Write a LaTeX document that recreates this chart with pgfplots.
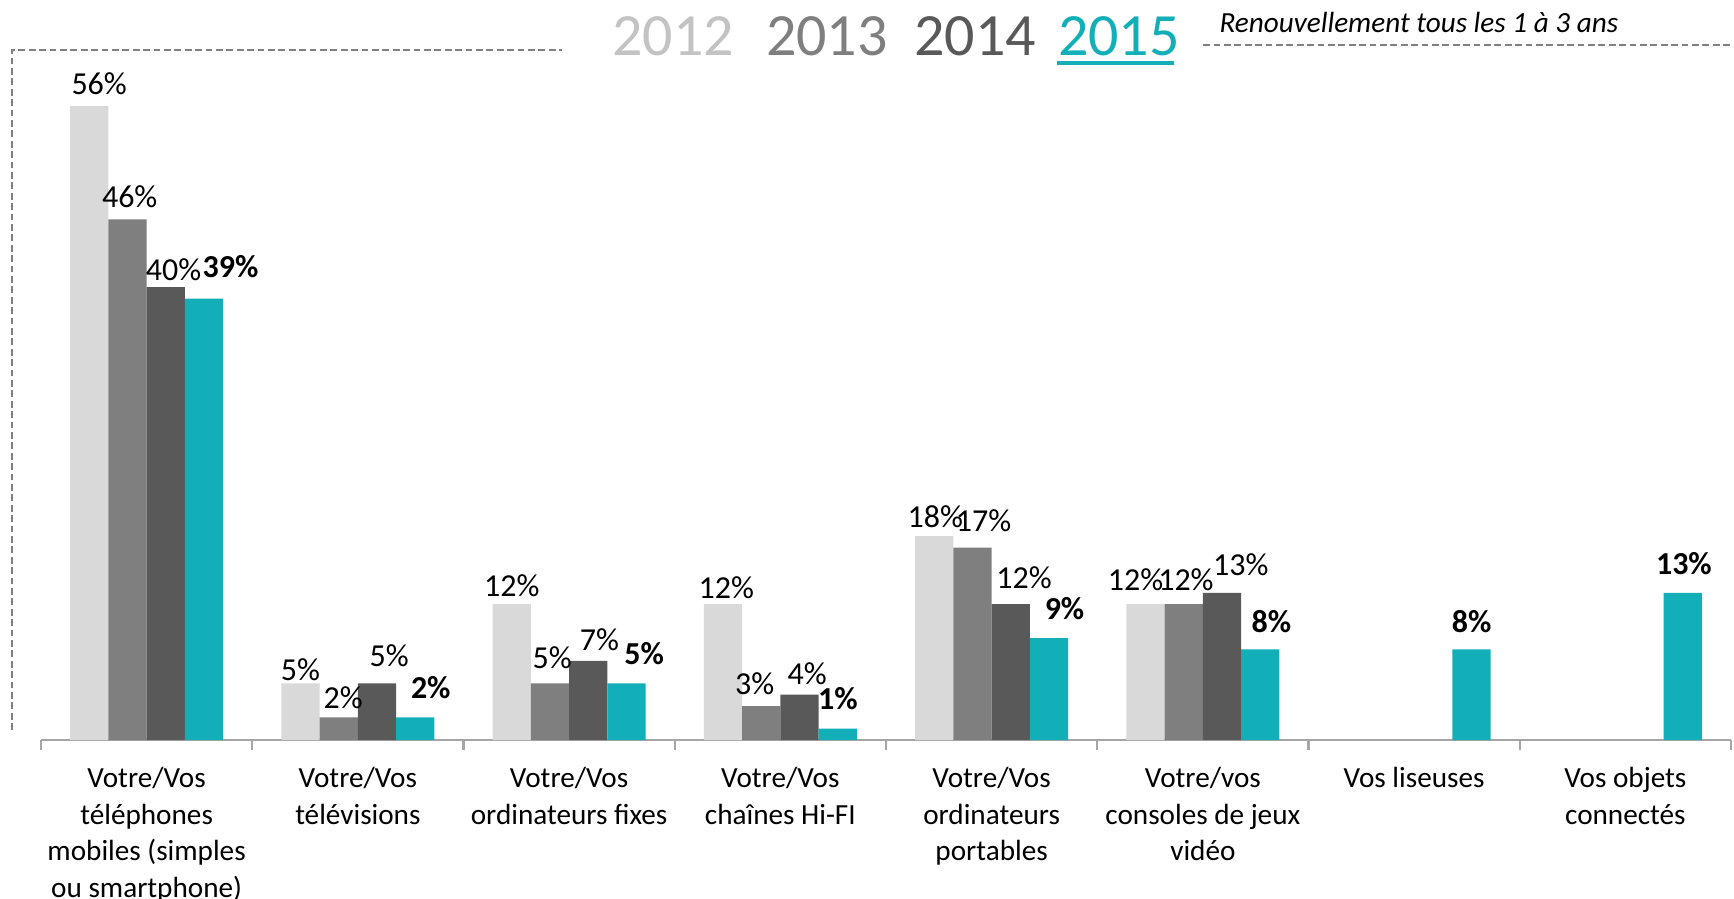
\documentclass[border=0pt]{standalone}
\usepackage{fontspec}
\setmainfont{Carlito}
\usepackage{pgfplots}
\usepackage{pgfplotstable}
\pgfplotsset{compat=1.18}

\definecolor{c2012}{HTML}{D9D9D9}
\definecolor{c2013}{HTML}{7F7F7F}
\definecolor{c2014}{HTML}{595959}
\definecolor{c2015}{HTML}{13AFB8}
\definecolor{axisgray}{HTML}{A6A6A6}
\definecolor{framegray}{HTML}{808080}

% x, value, label offsets (dx, dy) in reference pixels
\pgfplotstableread{
x y dx dy
0 56 9 20
1 5 0 12
2 12 0 17
3 12 3 15
4 18 1 18
5 12 -9 22
}\tdouze
\pgfplotstableread{
x y dx dy
0 46 2 20
1 2 4 17.5
2 5 2 23
3 3 -6 20
4 17 10 24
5 12 2 22
}\ttreize
\pgfplotstableread{
x y dx dy
0 40 7 16
1 5 11 25
2 7 10 19
3 4 7 19
4 12 12 24
5 13 17 25
}\tquatorze
\pgfplotstableread{
x y dx dy
0 39 24 29
1 2 14 26.5
2 5 16 27
3 1 0 27
4 9 14 27
5 8 10 25
6 8 0 25
7 13 1 26
}\tquinze

\begin{document}
\begin{tikzpicture}
\useasboundingbox (0,0) rectangle (433.5pt,224.75pt);

\begin{axis}[
  at={(10.25pt,39.75pt)}, anchor=south west,
  scale only axis,
  width=422.5pt, height=169.8pt,
  xmin=-0.5, xmax=7.5,
  ymin=0, ymax=60,
  ybar=0pt, bar width=9.57pt,
  axis x line=bottom,
  axis y line=none,
  axis line style={draw=axisgray, line width=0.6pt, -},
  xtick={0,...,7},
  major tick length=0pt,
  minor xtick={-0.5,0.5,...,7.5},
  minor tick length=2.5pt,
  tick align=outside,
  minor tick style={draw=axisgray, line width=0.6pt},
  xticklabels={
    {Votre/Vos\\téléphones\\mobiles (simples\\ou smartphone)},
    {Votre/Vos\\télévisions},
    {Votre/Vos\\ordinateurs fixes},
    {Votre/Vos\\chaînes Hi-FI},
    {Votre/Vos\\ordinateurs\\portables},
    {Votre/vos\\consoles de jeux\\vidéo},
    {Vos liseuses},
    {Vos objets\\connectés}},
  xticklabel style={font=\fontsize{7.3}{9.1}\selectfont, align=center,
    anchor=north, inner sep=0pt, yshift=-6.7pt},
  clip=false,
  nodes near coords={\pgfmathprintnumber[assume math mode=true]{\pgfplotspointmeta}\%},
  visualization depends on={\thisrow{dx} \as \lblx},
  visualization depends on={\thisrow{dy} \as \lbly},
  every node near coord/.append style={font=\fontsize{8}{9.6}\selectfont,
    anchor=center, inner sep=0pt,
    xshift=0.2765pt*\lblx, yshift=0.2765pt*\lbly},
]
\addplot[fill=c2012, draw=none] table[x=x, y=y] {\tdouze};
\addplot[fill=c2013, draw=none] table[x=x, y=y] {\ttreize};
\addplot[fill=c2014, draw=none] table[x=x, y=y] {\tquatorze};
\addplot[fill=c2015, draw=none,
  every node near coord/.append style={font=\fontsize{8}{9.6}\selectfont\bfseries}]
  table[x=x, y=y] {\tquinze};
\end{axis}

% dashed frame
\draw[framegray, line width=0.45pt, dash pattern=on 1.7pt off 0.9pt]
  (3.05pt,42.25pt) -- (3.05pt,212.3pt) -- (140.4pt,212.3pt);
\draw[framegray, line width=0.45pt, dash pattern=on 1.7pt off 0.9pt]
  (300.8pt,213.4pt) -- (433.5pt,213.4pt);

% header
\begin{scope}[every node/.style={anchor=base west, inner sep=0pt,
    font=\fontsize{15}{18}\selectfont}]
\node[text=c2012!90!black] at (152.9pt,210.9pt) {2012};
\node[text=c2013] at (191.3pt,210.9pt) {2013};
\node[text=c2014] at (228.4pt,210.9pt) {2014};
\node[text=c2015] at (264.3pt,210.9pt) {2015};
\end{scope}
\draw[c2015, line width=0.8pt] (264.3pt,209.0pt) -- (293.6pt,209.0pt);
\node[anchor=base west, inner sep=0pt, font=\fontsize{7.3}{8.8}\selectfont\itshape]
  at (304.7pt,216.7pt) {Renouvellement tous les 1 à 3 ans};
\end{tikzpicture}
\end{document}
